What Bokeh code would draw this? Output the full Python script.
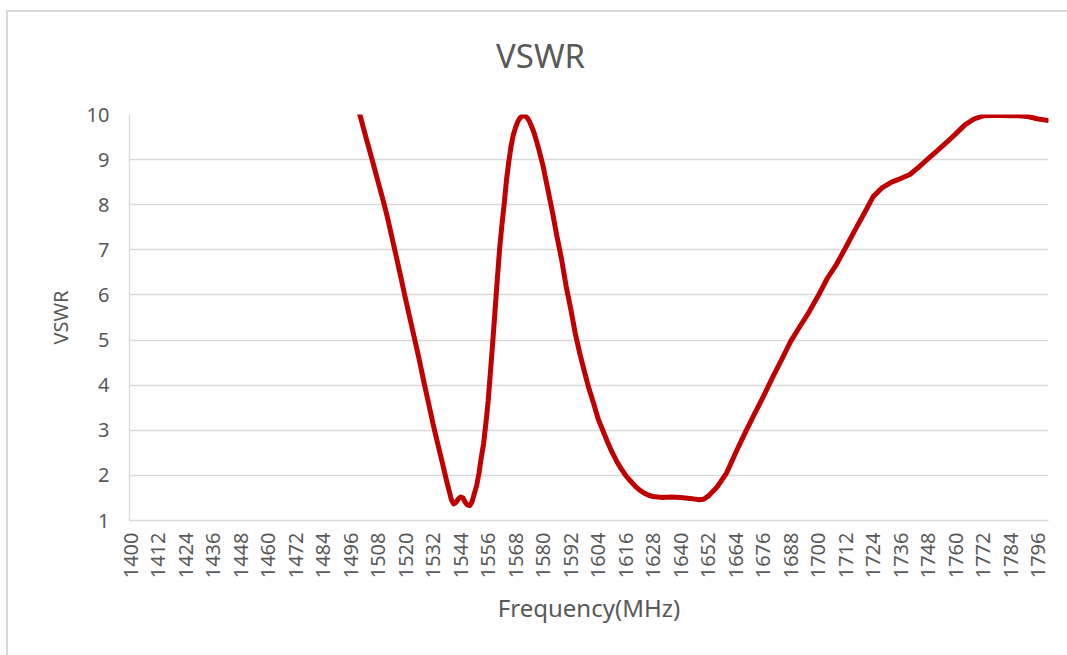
import math
from bokeh.plotting import figure
from bokeh.layouts import column
from bokeh.models import Range1d, FixedTicker, ColumnDataSource, Div
from bokeh.embed import file_html
from bokeh.resources import INLINE

# ---- data ----
freq_mhz = [1488, 1492, 1496, 1500, 1502, 1504, 1506, 1508, 1510, 1512, 1514, 1516,
            1518, 1520, 1522, 1524, 1526, 1528, 1530, 1532, 1534, 1536, 1538, 1540,
            1541, 1542, 1543, 1544, 1545, 1546, 1547, 1548, 1549, 1550, 1551, 1552,
            1553, 1554, 1555, 1556, 1557, 1558, 1559, 1560, 1561, 1562, 1563, 1564,
            1565, 1566, 1567, 1568, 1569, 1570, 1571, 1572, 1573, 1574, 1575, 1576,
            1578, 1580, 1582, 1584, 1586, 1588, 1590, 1592, 1594, 1596, 1598, 1600,
            1602, 1604, 1606, 1608, 1610, 1612, 1614, 1616, 1618, 1620, 1622, 1624,
            1626, 1628, 1632, 1636, 1640, 1644, 1648, 1650, 1652, 1656, 1660, 1664,
            1668, 1672, 1676, 1680, 1684, 1688, 1692, 1696, 1700, 1704, 1708, 1712,
            1716, 1720, 1724, 1728, 1732, 1736, 1740, 1744, 1748, 1752, 1756, 1760,
            1764, 1768, 1772, 1776, 1780, 1784, 1788, 1792, 1796, 1800]
vswr = [12.3, 11.5, 10.75, 10.0, 9.62, 9.25, 8.88, 8.5, 8.13, 7.73, 7.28, 6.83,
        6.37, 5.9, 5.45, 5.0, 4.55, 4.06, 3.6, 3.13, 2.7, 2.28, 1.85, 1.45,
        1.37, 1.40, 1.48, 1.52, 1.50, 1.40, 1.34, 1.33, 1.42, 1.60, 1.78, 2.05,
        2.4, 2.7, 3.15, 3.65, 4.3, 4.95, 5.65, 6.35, 7.02, 7.55, 8.02, 8.55,
        8.95, 9.3, 9.55, 9.72, 9.85, 9.93, 9.97, 9.97, 9.93, 9.85, 9.73, 9.6,
        9.25, 8.85, 8.35, 7.85, 7.3, 6.8, 6.2, 5.7, 5.15, 4.7, 4.3, 3.92,
        3.6, 3.25, 3.0, 2.75, 2.52, 2.32, 2.15, 2.0, 1.88, 1.77, 1.68, 1.61,
        1.56, 1.53, 1.51, 1.52, 1.51, 1.49, 1.46, 1.47, 1.54, 1.75, 2.05, 2.5,
        2.93, 3.34, 3.74, 4.16, 4.56, 4.97, 5.3, 5.62, 5.98, 6.37, 6.68, 7.05,
        7.43, 7.8, 8.18, 8.38, 8.5, 8.58, 8.67, 8.84, 9.02, 9.2, 9.38, 9.57,
        9.77, 9.9, 9.97, 9.98, 9.98, 9.97, 9.97, 9.95, 9.9, 9.87]
x_tick_labels = list(range(1400, 1797, 12))
y_ticks = list(range(1, 11))
chart_title = "VSWR"

TEXT = "#595959"
FONT = "Noto Sans"

title_div = Div(
    text=(f'<div style="margin-left:483px;margin-top:22px;font-family:\'{FONT}\';'
          f'font-size:33px;line-height:33px;color:{TEXT};white-space:nowrap">'
          f'{chart_title}</div>'),
    width=1058, height=60)

p = figure(width=1058, height=582, output_backend="svg", toolbar_location=None,
           x_range=Range1d(1399.5, 1800.5), y_range=Range1d(1, 10),
           min_border_left=121, min_border_right=18, min_border_top=32,
           min_border_bottom=144)
p.title.visible = False

p.outline_line_color = None
p.xgrid.grid_line_color = None
p.ygrid.grid_line_color = "#d9d9d9"
p.ygrid.grid_line_width = 1.3

p.xaxis.ticker = FixedTicker(ticks=x_tick_labels)
p.yaxis.ticker = FixedTicker(ticks=y_ticks)
p.xaxis.major_label_orientation = math.pi / 2
for ax in (p.xaxis, p.yaxis):
    ax.axis_line_color = "#d9d9d9"
    ax.axis_line_width = 1.3
    ax.major_tick_line_color = None
    ax.minor_tick_line_color = None
    ax.major_tick_out = 0
    ax.major_tick_in = 0
    ax.major_label_text_font = FONT
    ax.major_label_text_font_size = "20px"
    ax.major_label_text_color = TEXT
    ax.axis_label_text_font = FONT
    ax.axis_label_text_font_style = "normal"
    ax.axis_label_text_color = TEXT
p.xaxis.major_label_standoff = 12
p.yaxis.major_label_standoff = 20
p.xaxis.axis_label = "Frequency(MHz)"
p.xaxis.axis_label_text_font_size = "24px"
p.xaxis.axis_label_standoff = 10
p.yaxis.axis_label = "VSWR"
p.yaxis.axis_label_text_font_size = "20px"
p.yaxis.axis_label_standoff = 10

src = ColumnDataSource(dict(x=freq_mhz, y=vswr))
p.line("x", "y", source=src, line_color="#C00000", line_width=5,
       line_join="round", line_cap="round")

layout = column(title_div, p, spacing=0)
layout.styles = {"margin-left": "6px", "margin-top": "10px",
                 "border-left": "2px solid #d9d9d9", "border-top": "2px solid #d9d9d9",
                 "background-color": "white"}

open("out.html", "w").write(file_html(layout, INLINE))
